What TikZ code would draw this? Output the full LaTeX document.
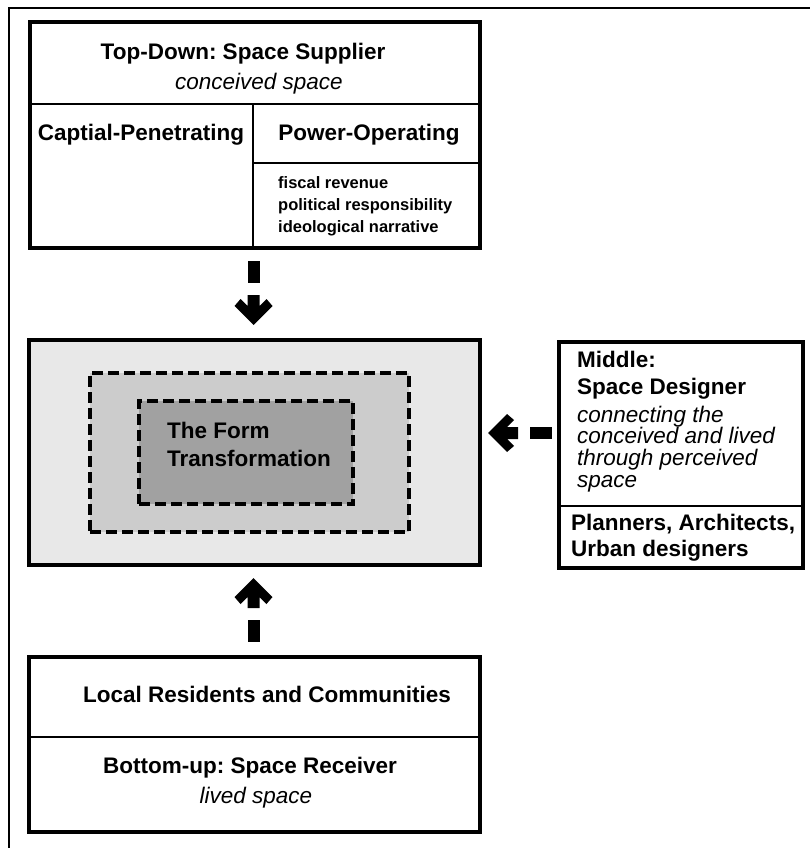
\documentclass[tikz,border=0pt]{standalone}
\usepackage{fontspec}
\setmainfont{Liberation Sans}
\usetikzlibrary{calc}
\definecolor{gA}{gray}{0.91}
\definecolor{gB}{gray}{0.80}
\definecolor{gC}{gray}{0.63}
\frenchspacing
\begin{document}
\begin{tikzpicture}[x=1pt,y=-1pt,
  box/.style={draw, line width=3.2pt, inner sep=0pt, outer sep=0pt, anchor=north west},
  thinline/.style={line width=1.5pt},
  dbox/.style={draw, line width=3.2pt, dash pattern=on 11pt off 5pt, inner sep=0pt, outer sep=0pt, anchor=north west},
  bt/.style={font=\fontsize{22.5}{26}\selectfont\bfseries, inner sep=0pt},
  itx/.style={font=\fontsize{22.5}{26}\selectfont\itshape, inner sep=0pt},
  st/.style={font=\fontsize{16.5}{20}\selectfont\bfseries, inner sep=0pt, anchor=base west},
  bigarrow/.pic={
    \fill (-6,-64) rectangle (6,-42);
    \fill (-6,-30) -- (6,-30) -- (6,-19) -- (13,-26) -- (19,-19) -- (0,0)
          -- (-19,-19) -- (-13,-26) -- (-6,-19) -- cycle;
  }
]
\useasboundingbox (0,0) rectangle (810,848);
% outer frame (only top and left visible)
\draw[line width=2.8pt] (9,850) -- (9,8) -- (812,8);

% top box
\node[box, minimum width=450pt, minimum height=226pt] (top) at (30,22) {};
\draw[thinline] (top.west |- 0,104) -- (top.east |- 0,104);
\draw[thinline] (253,104) -- (253,248);
\draw[thinline] (253,163) -- (top.east |- 0,163);
\node[bt, anchor=base] (tdtitle) at (243,60) {Top-Down: Space Supplier};
\node[itx, anchor=base] (tdsub) at (259,90) {conceived space};
\node[bt, anchor=base] (capt) at (141,140) {Captial-Penetrating};
\node[bt, anchor=base] (powr) at (369,140) {Power-Operating};
\node[st] (l1) at (278,188) {fiscal revenue};
\node[st] (l2) at (278,210) {political responsibility};
\node[st] (l3) at (278,232) {ideological narrative};

% center
\node[box, fill=gA, minimum width=451pt, minimum height=225pt] (mid) at (29,340) {};
\node[dbox, fill=gB, minimum width=319pt, minimum height=159pt] (ring) at (90,373) {};
\node[dbox, fill=gC, minimum width=214pt, minimum height=103pt] (core) at (139,401) {};
\node[bt, anchor=base west] (ft1) at (167,438) {The Form};
\node[bt, anchor=base west] (ft2) at (167,466) {Transformation};

% right box
\node[box, minimum width=244pt, minimum height=226pt] (mdl) at (559,342) {};
\draw[thinline] (mdl.west |- 0,506) -- (mdl.east |- 0,506);
\node[bt, anchor=base west] (m1) at (577,367) {Middle:};
\node[bt, anchor=base west] (m2) at (577,394) {Space Designer};
\node[itx, anchor=base west] (m3) at (577,422) {connecting the};
\node[itx, anchor=base west] (m4) at (577,443.5) {conceived and lived};
\node[itx, anchor=base west] (m5) at (577,465) {through perceived};
\node[itx, anchor=base west] (m6) at (577,487) {space};
\node[bt, anchor=base west] (m7) at (571,530) {Planners, Architects,};
\node[bt, anchor=base west] (m8) at (571,556) {Urban designers};

% bottom box
\node[box, minimum width=451pt, minimum height=175pt] (bot) at (29,657) {};
\draw[thinline] (bot.west |- 0,737) -- (bot.east |- 0,737);
\node[bt, anchor=base] (b1) at (267,702) {Local Residents and Communities};
\node[bt, anchor=base] (b2) at (250,773) {Bottom-up: Space Receiver};
\node[itx, anchor=base] (b3) at (256,803) {lived space};

% arrows
\pic at ($(mid.north)+(-1,-15)$) {bigarrow};
\pic[rotate=180] at ($(mid.south)+(-1,13)$) {bigarrow};
\pic[rotate=-90] at ($(mid.east)+(8,-19.5)$) {bigarrow};
\end{tikzpicture}
\end{document}
